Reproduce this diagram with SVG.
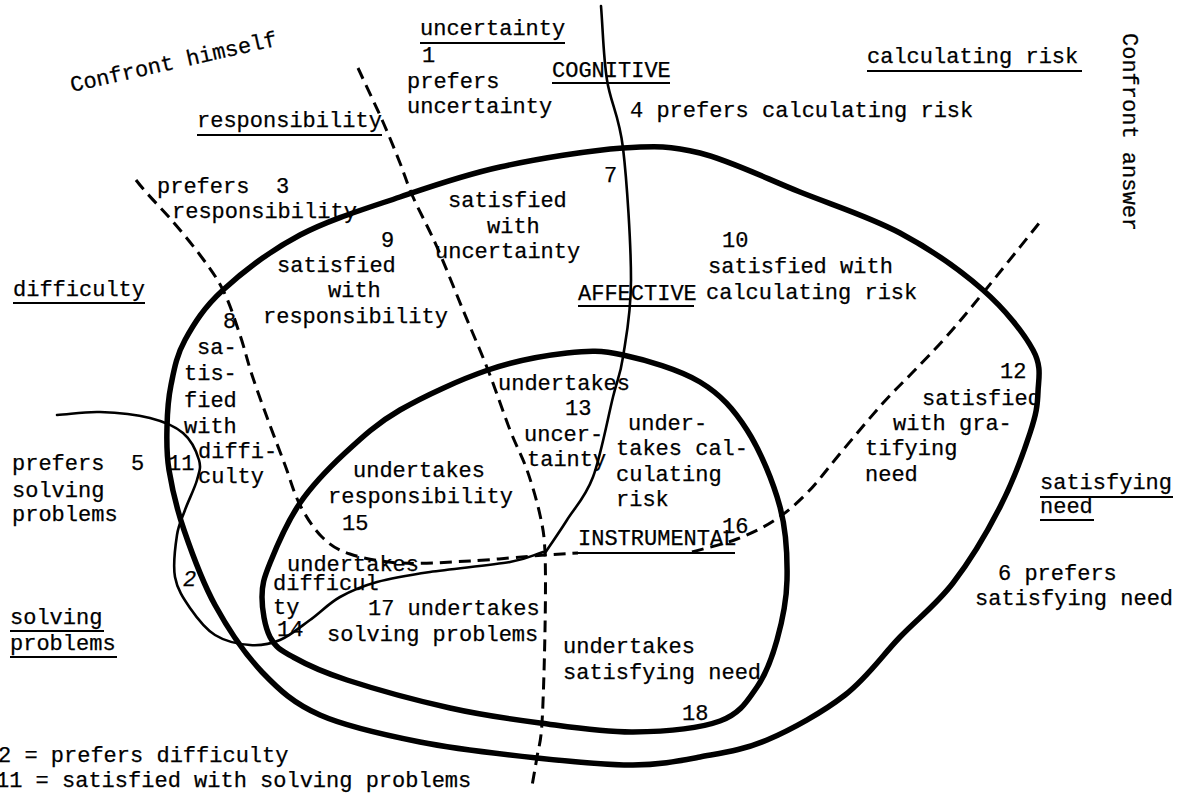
<svg xmlns="http://www.w3.org/2000/svg" width="1184" height="794" viewBox="0 0 1184 794">
<style>
text{font-family:"Liberation Mono","DejaVu Sans Mono",monospace;font-size:22px;letter-spacing:0px;fill:#000;stroke:#000;stroke-width:0.25}
.thick{fill:none;stroke:#000;stroke-width:5.5;stroke-linejoin:round}
.thin{fill:none;stroke:#000;stroke-width:2.6;stroke-linecap:round}
.dash{fill:none;stroke:#000;stroke-width:3;stroke-dasharray:12 7}
.ul{stroke:#000;stroke-width:2.2}
</style>
<rect width="1184" height="794" fill="#fff"/>
<g id="connectors">
<path id="outer-loop" class="thick" d="M623,148 C656.3,145.7 670.5,145.7 700,153 C729.5,160.3 766.7,178.7 800,192 C833.3,205.3 869.5,216.7 900,233 C930.5,249.3 960.8,270.5 983,290 C1005.2,309.5 1023.8,333 1033,350 C1042.2,367 1038.5,378.2 1038,392 C1037.5,405.8 1036.3,413.8 1030,433 C1023.7,452.2 1012.8,482 1000,507 C987.2,532 969.7,561.3 953,583 C936.3,604.7 918,618.3 900,637 C882,655.7 867.2,677.8 845,695 C822.8,712.2 791.2,729.7 767,740 C742.8,750.3 722.3,752.8 700,757 C677.7,761.2 660.2,764.8 633,765 C605.8,765.2 572.5,761.8 537,758 C501.5,754.2 456.2,749.2 420,742 C383.8,734.8 346.3,726.7 320,715 C293.7,703.3 279.5,690.3 262,672 C244.5,653.7 228,628.7 215,605 C202,581.3 191.7,552.5 184,530 C176.3,507.5 171.8,487.2 169,470 C166.2,452.8 166.7,441.2 167,427 C167.3,412.8 168,399.5 171,385 C174,370.5 176.3,355.8 185,340 C193.7,324.2 203.8,307.5 223,290 C242.2,272.5 270.5,250.5 300,235 C329.5,219.5 366.7,208.3 400,197 C433.3,185.7 462.8,175.2 500,167 C537.2,158.8 589.7,150.3 623,148 Z"/>
<path id="inner-loop" class="thick" d="M623,355 C645.2,359.8 679.3,369.5 700,382 C720.7,394.5 733.7,409.2 747,430 C760.3,450.8 773.3,482 780,507 C786.7,532 787.5,557.8 787,580 C786.5,602.2 782,622.2 777,640 C772,657.8 766.5,673.5 757,687 C747.5,700.5 740.7,713.5 720,721 C699.3,728.5 663,731.7 633,732 C603,732.3 570.5,727 540,723 C509.5,719 482.2,715.2 450,708 C417.8,700.8 373.2,688.5 347,680 C320.8,671.5 305.8,664.2 293,657 C280.2,649.8 275.2,647 270,637 C264.8,627 262,609.3 262,597 C262,584.7 263.7,578.7 270,563 C276.3,547.3 287.5,521.3 300,503 C312.5,484.7 328.3,468.5 345,453 C361.7,437.5 376.2,423.8 400,410 C423.8,396.2 460.2,379.5 488,370 C515.8,360.5 544.5,355.5 567,353 C589.5,350.5 600.8,350.2 623,355 Z"/>
<path id="solving-problems-line" class="thin" d="M57,415 C71.3,414 84.5,411.5 100,412 C115.5,412.5 136.2,414.5 150,418 C163.8,421.5 174.8,426 183,433 C191.2,440 196.7,452.2 199,460 C201.3,467.8 199.3,471.7 197,480 C194.7,488.3 188.3,500.8 185,510 C181.7,519.2 178.7,523.8 177,535 C175.3,546.2 172.8,564.8 175,577 C177.2,589.2 183.3,598.3 190,608 C196.7,617.7 205,628.8 215,635 C225,641.2 239.2,644.2 250,645 C260.8,645.8 270,644.2 280,640 C290,635.8 300,627.2 310,620 C320,612.8 328.8,603.3 340,597 C351.2,590.7 362,586.2 377,582 C392,577.8 407.8,575.3 430,572 C452.2,568.7 491.2,565.3 510,562 C528.8,558.7 532,555.3 543,552"/>
<path id="cognitive-line" class="thin" d="M601,6 C603,30.7 603.3,56.3 607,80 C610.7,103.7 619,114.7 623,148 C627,181.3 631,245.2 631,280 C631,314.8 626,337.5 623,357 C620,376.5 618,377 613,397 C608,417 600.7,456.5 593,477 C585.3,497.5 575,507.3 567,520 C559,532.7 552.3,542 545,553"/>
<path id="responsibility-line" class="dash" d="M136,180 C146.7,194 157.3,204 168,216 C178.7,228 190.8,242.7 200,255 C209.2,267.3 216.3,276.7 223,290 C229.7,303.3 235.2,320.8 240,335 C244.8,349.2 247.3,360.8 252,375 C256.7,389.2 262.5,405 268,420 C273.5,435 279.7,450.8 285,465 C290.3,479.2 293.8,493 300,505 C306.2,517 313.7,528.8 322,537 C330.3,545.2 337,549.7 350,554 C363,558.3 380,561.8 400,563 C420,564.2 445.8,562.3 470,561 C494.2,559.7 527,556.3 545,555 C563,553.7 567,553.7 578,553"/>
<path id="uncertainty-line" class="dash" d="M358,68 C366.3,86 376,106.2 383,122 C390,137.8 395,150.5 400,163 C405,175.5 406.8,183 413,197 C419.2,211 428.7,228.2 437,247 C445.3,265.8 454.5,289.5 463,310 C471.5,330.5 480.2,350 488,370 C495.8,390 503.5,413.3 510,430 C516.5,446.7 522,455.8 527,470 C532,484.2 537,501.2 540,515 C543,528.8 544.2,533.8 545,553 C545.8,572.2 545.5,601.7 545,630 C544.5,658.3 543.3,701.8 542,723 C540.7,744.2 538.7,746.5 537,757 C535.3,767.5 533.7,776.3 532,786"/>
<path id="satisfying-need-line" class="dash" d="M692,552 C707,547.7 723.2,544.3 737,539 C750.8,533.7 763.2,527.8 775,520 C786.8,512.2 796.7,503.7 808,492 C819.3,480.3 830.5,464.8 843,450 C855.5,435.2 871.3,416 883,403 C894.7,390 902.3,383.2 913,372 C923.7,360.8 935.3,349.2 947,336 C958.7,322.8 967.5,312 983,293 C998.5,274 1021,245.7 1040,222"/>
<line id="instrumental-line" class="ul" x1="573" y1="553" x2="735" y2="553" stroke-width="2.6"/>
</g>
<g id="axis-labels">
<text transform="translate(72,92) rotate(-12.7)">Confront himself</text>
<text transform="translate(1123,33) rotate(90)">Confront answer</text>
</g>
<g id="dim-uncertainty">
<text x="420" y="35">uncertainty</text><line class="ul" x1="420" y1="43" x2="565" y2="43"/>
</g>
<g id="dim-responsibility">
<text x="197" y="127">responsibility</text><line class="ul" x1="197" y1="135" x2="382" y2="135"/>
</g>
<g id="dim-calculating-risk">
<text x="867" y="63">calculating risk</text><line class="ul" x1="867" y1="71" x2="1082" y2="71"/>
</g>
<g id="dim-difficulty">
<text x="13" y="296">difficulty</text><line class="ul" x1="13" y1="303" x2="145" y2="303"/>
</g>
<g id="dim-satisfying-need">
<text x="1040" y="489">satisfying</text><line class="ul" x1="1040" y1="497" x2="1173" y2="497"/>
<text x="1040" y="513">need</text><line class="ul" x1="1040" y1="520" x2="1094" y2="520"/>
</g>
<g id="dim-solving-problems">
<text x="10" y="624">solving</text><line class="ul" x1="10" y1="631" x2="104" y2="631"/>
<text x="10" y="650">problems</text><line class="ul" x1="10" y1="657" x2="117" y2="657"/>
</g>
<g id="level-cognitive">
<text x="552" y="77">COGNITIVE</text><line class="ul" x1="552" y1="83" x2="670" y2="83"/>
</g>
<g id="level-affective">
<text x="578" y="300">AFFECTIVE</text><line class="ul" x1="578" y1="306" x2="694" y2="306"/>
</g>
<g id="level-instrumental">
<text x="578" y="545">INSTRUMENTAL</text>
</g>
<g id="n1"><text x="422" y="62">1</text><text x="407" y="88">prefers</text><text x="407" y="113">uncertainty</text></g>
<g id="n2"><text x="183" y="586" font-style="italic">2</text></g>
<g id="n3"><text x="157" y="193">prefers</text><text x="276" y="193">3</text><text x="172" y="218">responsibility</text></g>
<g id="n4"><text x="630" y="117">4 prefers calculating risk</text></g>
<g id="n5"><text x="12" y="470">prefers</text><text x="131" y="470">5</text><text x="12" y="497">solving</text><text x="12" y="521">problems</text></g>
<g id="n6"><text x="998" y="580">6 prefers</text><text x="975" y="605">satisfying need</text></g>
<g id="n7"><text x="604" y="182" font-size="17">7</text></g>
<g id="n8"><text x="223" y="328">8</text><text x="197" y="354">sa-</text><text x="184" y="380">tis-</text><text x="184" y="407">fied</text><text x="184" y="433">with</text><text x="198" y="458">diffi-</text><text x="198" y="483">culty</text></g>
<g id="n9"><text x="381" y="247">9</text><text x="277" y="272">satisfied</text><text x="328" y="297">with</text><text x="263" y="323">responsibility</text></g>
<g id="n7-text"><text x="448" y="207">satisfied</text><text x="487" y="233">with</text><text x="435" y="258">uncertainty</text></g>
<g id="n10"><text x="722" y="247">10</text><text x="708" y="273">satisfied with</text><text x="706" y="299">calculating risk</text></g>
<g id="n11"><text x="168" y="470">11</text></g>
<g id="n12"><text x="1000" y="378">12</text><text x="922" y="405">satisfied</text><text x="893" y="430">with gra-</text><text x="865" y="455">tifying</text><text x="865" y="481">need</text></g>
<g id="n13"><text x="498" y="390">undertakes</text><text x="565" y="415">13</text><text x="524" y="441">uncer-</text><text x="527" y="466">tainty</text></g>
<g id="n14"><text x="287" y="571">undertakes</text><text x="273" y="590">difficul</text><text x="273" y="614">ty</text><text x="277" y="636">14</text></g>
<g id="n15"><text x="353" y="477">undertakes</text><text x="328" y="503">responsibility</text><text x="342" y="530">15</text></g>
<g id="n16"><text x="628" y="430">under-</text><text x="616" y="455">takes cal-</text><text x="616" y="481">culating</text><text x="616" y="506">risk</text><text x="722" y="533">16</text></g>
<g id="n17"><text x="368" y="615">17 undertakes</text><text x="327" y="641">solving problems</text></g>
<g id="n18"><text x="563" y="653">undertakes</text><text x="563" y="679">satisfying need</text><text x="682" y="720">18</text></g>
<g id="legend"><text x="-2" y="762">2 = prefers difficulty</text><text x="-4" y="787">11 = satisfied with solving problems</text></g>
</svg>
